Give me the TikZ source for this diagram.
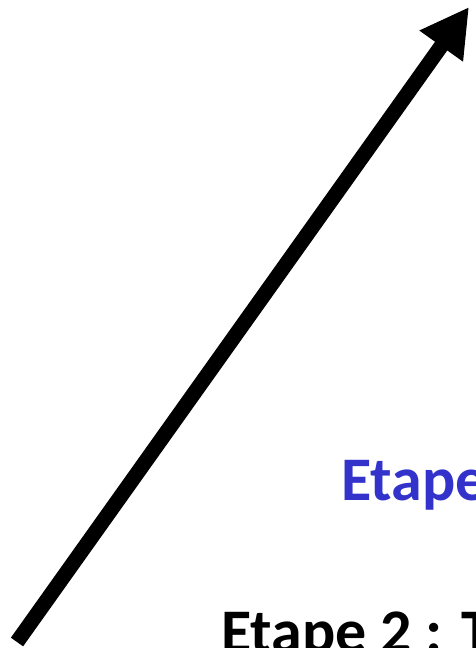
\documentclass[tikz,border=0pt]{standalone}
\usepackage{fontspec}
\setmainfont{Carlito}
\usetikzlibrary{arrows.meta}
\definecolor{stepblue}{RGB}{51,51,204}
\tikzset{
  bigarrow/.style={line width=15pt, -{Triangle[length=48pt,width=50pt]}},
  steplabel/.style={anchor=base west, inner sep=0pt, font=\fontsize{62}{70}\selectfont\bfseries}
}
\begin{document}
\begin{tikzpicture}[x=1pt,y=1pt]
\useasboundingbox (0,0) rectangle (475,-648);
\clip (0,0) rectangle (475,-648);
\coordinate (start) at (17,-642);
\coordinate (tip) at (469,-7);
\draw[bigarrow] (start) -- (tip);
\node[steplabel, text=stepblue] (e1) at (341,-500) {Etape};
\node[steplabel] (e2) at (221,-652) {Etape 2 : T};
\end{tikzpicture}
\end{document}
